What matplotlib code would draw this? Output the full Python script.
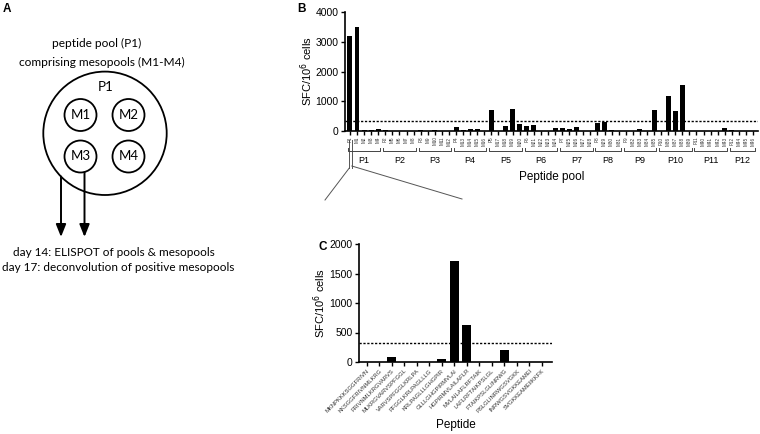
import matplotlib
matplotlib.use('Agg')
import matplotlib.pyplot as plt
from matplotlib.patches import Circle
import numpy as np

plt.rcParams['font.family'] = ['Liberation Sans', 'DejaVu Sans']

# ---------------- data ----------------
pool_labels = ['P1', 'M1', 'M2', 'M3', 'M4',
               'P2', 'M5', 'M6', 'M7', 'M8',
               'P3', 'M9', 'M10', 'M11', 'M12',
               'P4', 'M13', 'M14', 'M15', 'M16',
               'P5', 'M17', 'M18', 'M19', 'M20',
               'P6', 'M21', 'M22', 'M23', 'M24',
               'P7', 'M25', 'M26', 'M27', 'M28',
               'P8', 'M29', 'M30', 'M31',
               'P9', 'M32', 'M33', 'M34', 'M35',
               'P10', 'M36', 'M37', 'M38', 'M39',
               'P11', 'M40', 'M41', 'M42', 'M43',
               'P12', 'M44', 'M45', 'M46']
pool_values = [3200, 3500, 30, 30, 70,
               50, 0, 0, 0, 0,
               50, 0, 30, 0, 0,
               120, 50, 60, 70, 0,
               700, 0, 180, 750, 230,
               170, 210, 0, 0, 110,
               110, 60, 120, 0, 0,
               280, 310, 50, 0,
               0, 0, 60, 0, 720,
               0, 1180, 670, 1560, 0,
               0, 0, 0, 0, 90,
               50, 0, 0, 0]
pool_threshold = 330

peptide_labels = ['MKNPKKKSGGFRIVN', 'KKSGGFRIVNMLKRG', 'FRIVNMLKRGVARVS',
                  'MLKRGVARVSPFGGL', 'VARVSPFGGLKRLPA', 'PFGGLKRLPAGLLLG',
                  'KRLPAGLLLGHGPIR', 'GLLLGHGPIRMVLAI', 'HGPIRMVLAILAFLR',
                  'MVLAILAFLRFTAIK', 'LAFLRFTAIKPSLGL', 'FTAIKPSLGLINRWG',
                  'PSLGLINRWGSVGKK', 'INRWGSVGKKEAMEI', 'SVGKKEAMEIIKKFK']
peptide_values = [0, 0, 85, 0, 0, 0, 55, 1710, 620, 0, 0, 210, 0, 0, 0]
peptide_threshold = 327

# ---------------- figure ----------------
W, H = 760, 434
fig = plt.figure(figsize=(7.6, 4.34), dpi=100)


def px_axes(x0, y0, x1, y1):
    return fig.add_axes([x0 / W, 1 - y1 / H, (x1 - x0) / W, (y1 - y0) / H])


ov = fig.add_axes([0, 0, 1, 1])
ov.set_xlim(0, W)
ov.set_ylim(H, 0)
ov.axis('off')

# ---------------- panel A (diagram) ----------------
fa = ['Lato', 'DejaVu Sans']
ov.text(7, 9, 'A', fontsize=8.5, fontweight='bold', ha='center', va='center')
ov.text(97, 43, 'peptide pool (P1)', family=fa, fontsize=8.6, ha='center', va='center')
ov.text(102, 62, 'comprising mesopools (M1-M4)', family=fa, fontsize=8.6, ha='center', va='center')
ov.add_patch(Circle((105, 133.3), 61.7, fill=False, lw=1.3, ec='black'))
ov.text(106, 87, 'P1', family=fa, fontsize=9.5, ha='center', va='center')
for (cx, cy), name in zip([(80.5, 115), (128.5, 115), (80.5, 156.5), (128.5, 156.5)],
                          ['M1', 'M2', 'M3', 'M4']):
    ov.add_patch(Circle((cx, cy), 16, fill=False, lw=1.3, ec='black'))
    ov.text(cx, cy, name, family=fa, fontsize=9.5, ha='center', va='center')
for x0, y0 in [(61, 176.5), (84.5, 172.5)]:
    ov.annotate('', xy=(x0, 237), xytext=(x0, y0),
                arrowprops=dict(arrowstyle='-|>,head_length=0.75,head_width=0.3',
                                mutation_scale=10, lw=1.4, color='black',
                                shrinkA=0, shrinkB=0))
ov.text(114, 253, 'day 14: ELISPOT of pools & mesopools', family=fa, fontsize=8.5,
        ha='center', va='center')
ov.text(118, 267.5, 'day 17: deconvolution of positive mesopools', family=fa, fontsize=8.5,
        ha='center', va='center')


def style_axes(ax):
    for s in ['top', 'right']:
        ax.spines[s].set_visible(False)
    for s in ['left', 'bottom']:
        ax.spines[s].set_linewidth(1.2)
    ax.tick_params(axis='both', direction='out', length=3, width=1.0, color='black')
    ax.tick_params(axis='y', labelsize=7.5, pad=1.5)


# ---------------- panel B ----------------
axB = px_axes(345, 12, 758, 131)
axB.patch.set_alpha(0)
xb = np.arange(len(pool_labels))
axB.axhline(pool_threshold, ls=(0, (1.6, 1.2)), lw=1.0, color='black', zorder=1)
axB.bar(xb, pool_values, width=0.7, color='black', zorder=2)
axB.set_xlim(-0.7, len(pool_labels) - 0.3)
axB.set_ylim(0, 4000)
axB.set_yticks([0, 1000, 2000, 3000, 4000])
axB.set_xticks(xb)
axB.set_xticklabels(pool_labels, rotation=90, fontsize=3.3, color='#333333')
style_axes(axB)
axB.tick_params(axis='x', pad=1)

# group brackets
starts = [i for i, n in enumerate(pool_labels) if n.startswith('P')]
ends = starts[1:] + [len(pool_labels)]
trB = axB.get_xaxis_transform()
yb = (131 - 151) / 119
ytk = (131 - 148) / 119
ylab = (131 - 160) / 119
for s, e in zip(starts, ends):
    a, b = s - 0.3, e - 1 + 0.3
    axB.plot([a, a, b, b], [ytk, yb, yb, ytk], transform=trB, color='#444444',
             lw=0.7, clip_on=False)
    axB.text((a + b) / 2, ylab, pool_labels[s], transform=trB, fontsize=6.5,
             ha='center', va='center')

ov.text(301, 9, 'B', fontsize=8.5, fontweight='bold', ha='center', va='center')
ov.text(307, 71, 'SFC/10$^6$ cells', fontsize=8, rotation=90, ha='center', va='center')
ov.text(551.5, 177, 'Peptide pool', fontsize=8.5, ha='center', va='center')

# zoom connector
ov.plot([349.3, 349.3], [140, 168], color='#555555', lw=0.7)
ov.plot([351.8, 351.8], [140, 168], color='#555555', lw=0.7)
ov.plot([349.3, 325], [168, 200], color='#555555', lw=0.7)
ov.plot([351.8, 462], [166, 199], color='#555555', lw=0.7)

# ---------------- panel C ----------------
axC = px_axes(359, 244, 552, 362)
axC.patch.set_alpha(0)
xc = np.arange(len(peptide_labels))
axC.axhline(peptide_threshold, ls=(0, (1.6, 1.2)), lw=1.0, color='black', zorder=1)
axC.bar(xc, peptide_values, width=0.7, color='black', zorder=2)
axC.set_xlim(-0.6, len(peptide_labels) - 0.2)
axC.set_ylim(0, 2000)
axC.set_yticks([0, 500, 1000, 1500, 2000])
axC.set_xticks(xc)
axC.set_xticklabels(peptide_labels, rotation=45, ha='right', rotation_mode='anchor',
                    fontsize=4.2, color='#333333')
style_axes(axC)
axC.tick_params(axis='x', pad=1.5)

ov.text(323, 247, 'C', fontsize=8.5, fontweight='bold', ha='center', va='center')
ov.text(320, 303, 'SFC/10$^6$ cells', fontsize=8, rotation=90, ha='center', va='center')
ov.text(455.5, 425, 'Peptide', fontsize=8.5, ha='center', va='center')

fig.savefig('out.png', dpi=100)
